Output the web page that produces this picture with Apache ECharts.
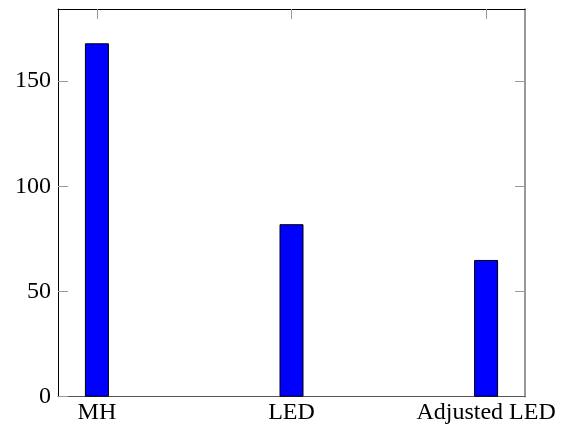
<!DOCTYPE html>
<html>
<head>
<meta charset="utf-8">
<script src="https://cdn.jsdelivr.net/npm/echarts@6/dist/echarts.min.js"></script>
<style>html,body{margin:0;padding:0;background:#fff}#c{width:562px;height:425px}</style>
</head>
<body>
<div id="c"></div>
<script>
const categories = ["MH", "LED", "Adjusted LED"];
const values = [168, 82, 65];
const yTicks = [0, 50, 100, 150];

const catIdx = categories.map((c, i) => i);
const font = "'Liberation Serif', 'Times New Roman', serif";
const chart = echarts.init(document.getElementById('c'), null, {renderer: 'canvas'});
chart.setOption({
  animation: false,
  grid: {left: 58, top: 9, right: 37, bottom: 28.3},
  xAxis: [
    {
      type: 'value', position: 'bottom', min: -0.2, max: 2.2,
      splitLine: {show: false},
      axisLine: {show: true, onZero: false, lineStyle: {color: '#555', width: 1}},
      axisTick: {show: true, inside: true, length: 10, customValues: catIdx, lineStyle: {color: '#999'}},
      axisLabel: {show: true, customValues: catIdx, formatter: v => categories[Math.round(v)] || '',
        fontFamily: font, fontSize: 24, color: '#000', margin: 4}
    },
    {
      type: 'value', position: 'top', min: -0.2, max: 2.2,
      splitLine: {show: false},
      axisLine: {show: true, onZero: false, lineStyle: {color: '#000', width: 1}},
      axisTick: {show: true, inside: true, length: 10, customValues: catIdx, lineStyle: {color: '#999'}},
      axisLabel: {show: false}
    }
  ],
  yAxis: [
    {
      type: 'value', position: 'left', min: 0, max: 184.3,
      splitLine: {show: false},
      axisLine: {show: true, onZero: false, lineStyle: {color: '#000', width: 1}},
      axisTick: {show: true, inside: true, length: 10, customValues: yTicks, lineStyle: {color: '#999'}},
      axisLabel: {show: true, customValues: yTicks, fontFamily: font, fontSize: 24, color: '#000', margin: 7}
    },
    {
      type: 'value', position: 'right', min: 0, max: 184.3,
      splitLine: {show: false},
      axisLine: {show: true, onZero: false, lineStyle: {color: '#777', width: 1.5}},
      axisTick: {show: true, inside: true, length: 10, customValues: yTicks.slice(1), lineStyle: {color: '#999'}},
      axisLabel: {show: false}
    }
  ],
  series: [{
    type: 'bar',
    xAxisIndex: 0, yAxisIndex: 0,
    barWidth: 24,
    data: categories.map((c, i) => [i, values[i]]),
    itemStyle: {color: '#0000ff', borderColor: '#000', borderWidth: 1}
  }]
});
</script>
</body>
</html>
